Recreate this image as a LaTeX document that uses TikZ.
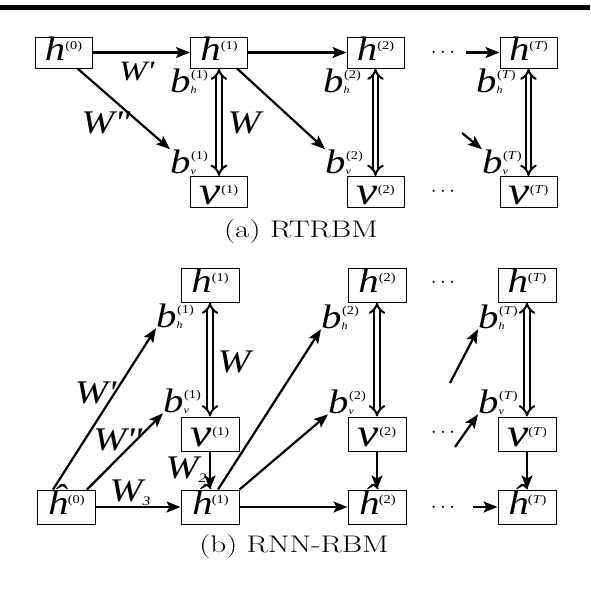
\documentclass[tikz,border=0pt]{standalone}
\usepackage{fontspec}
\newfontfamily\tms[FakeStretch=1.2, UprightFont={Liberation Serif}, ItalicFont={Liberation Serif Italic}]{Liberation Serif}
\usetikzlibrary{arrows.meta, positioning}

\newcommand{\hlab}[2]{{\fontsize{34}{34}\selectfont\itshape #1}\raisebox{11pt}{\fontsize{12}{12}\selectfont #2}}
\newcommand{\vlab}[1]{{\fontsize{40}{40}\selectfont\itshape v}\raisebox{11pt}{\fontsize{12}{12}\selectfont #1}}
\newcommand{\blab}[2]{{\fontsize{34}{34}\selectfont\itshape b}\rlap{\raisebox{-1pt}{\fontsize{10}{10}\selectfont\itshape #1}}\kern0.5pt\raisebox{14pt}{\fontsize{12}{12}\selectfont #2}}
\newcommand{\wlab}[1]{{\fontsize{33}{33}\selectfont\itshape W#1}}

\begin{document}
\begin{tikzpicture}[x=1pt, y=-1pt,
  every node/.style={font=\tms, inner sep=0pt},
  box/.style={draw, line width=1pt, minimum width=57pt, minimum height=31pt,
              text height=23pt, text depth=8pt},
  boxb/.style={box, minimum width=58pt, minimum height=34pt},
  vbox/.style={text height=28pt, text depth=3pt},
  arr/.style={-{Stealth[length=14pt, width=11pt, inset=3pt]}, line width=2.2pt},
  dbl/.style={{Implies}-{Implies}, double, double distance=3.5pt, line width=2pt},
  lbl/.style={anchor=base west},
  captxt/.style={font=\rmfamily\fontsize{24}{24}\selectfont},
  dts/.style={font=\fontsize{22}{22}\selectfont},
]
  \useasboundingbox (0,0) rectangle (590,600);
  \draw[line width=5pt] (0,7.5) -- (590,7.5);

  % (a) RTRBM
  \node[box] (h0) at (63.5,52.5) {\hlab{h}{(0)}};
  \node[box] (ha1) at (219,52.5) {\hlab{h}{(1)}};
  \node[box] (ha2) at (375.5,52.5) {\hlab{h}{(2)}};
  \node[box] (haT) at (528.5,52.5) {\hlab{h}{(\textit{T})}};
  \node[box, vbox] (va1) at (219,192) {\vlab{(1)}};
  \node[box, vbox] (va2) at (375.5,192) {\vlab{(2)}};
  \node[box, vbox] (vaT) at (528.5,192) {\vlab{(\textit{T})}};

  \node[dts] (dta1) at (443,53) {$\cdots$};
  \node[dts] (dta2) at (443,192) {$\cdots$};

  \node[lbl] (bha1) at (170,92) {\blab{h}{(1)}};
  \node[lbl] (bva1) at (170,173) {\blab{v}{(1)}};
  \node[lbl] (bha2) at (323,92) {\blab{h}{(2)}};
  \node[lbl] (bva2) at (325,173) {\blab{v}{(2)}};
  \node[lbl] (bhaT) at (476,92) {\blab{h}{(\textit{T})}};
  \node[lbl] (bvaT) at (482,173) {\blab{v}{(\textit{T})}};

  \node (wpa) at (136,72) {\fontsize{28}{28}\selectfont\itshape W\textquotesingle};
  \node (wppa) at (105,123) {\wlab{\textquotesingle\textquotesingle}};
  \node (wa) at (244,123) {\wlab{}};

  \draw[arr] (h0.east) -- (ha1.west);
  \draw[arr] (ha1.east) -- (ha2.west);
  \coordinate (sa) at (466,52.5);
  \draw[arr] (sa) -- (haT.west);
  \draw[arr] ([xshift=14pt]h0.south) -- (bva1.north west);
  \draw[arr] ([xshift=18pt]ha1.south) -- (bva2.north west);
  \coordinate (sva) at (462,133);
  \draw[arr] (sva) -- (bvaT.north west);
  \foreach \k in {1,2,T}
    \draw[dbl] (ha\k.south) -- (va\k.north);

  \node[captxt] (capa) at (301,232) {\scalebox{1.3}[1]{(a) RTRBM}};

  % (b) RNN-RBM
  \node[boxb] (hb1) at (210,285) {\hlab{h}{(1)}};
  \node[boxb] (hb2) at (377,285) {\hlab{h}{(2)}};
  \node[boxb] (hbT) at (527,285) {\hlab{h}{(\textit{T})}};
  \node[boxb, vbox] (vb1) at (210,434) {\vlab{(1)}};
  \node[boxb, vbox] (vb2) at (377,434) {\vlab{(2)}};
  \node[boxb, vbox] (vbT) at (527,434) {\vlab{(\textit{T})}};
  \node[boxb] (hh0) at (66,507) {\hlab{\^{h}}{(0)}};
  \node[boxb] (hh1) at (210,507) {\hlab{\^{h}}{(1)}};
  \node[boxb] (hh2) at (377,507) {\hlab{\^{h}}{(2)}};
  \node[boxb] (hhT) at (527,507) {\hlab{\^{h}}{(\textit{T})}};

  \node[dts] (dtb1) at (443,283) {$\cdots$};
  \node[dts] (dtb2) at (443,433) {$\cdots$};
  \node[dts] (dtb3) at (443,508) {$\cdots$};

  \node[lbl] (bhb1) at (156,327) {\blab{h}{(1)}};
  \node[lbl] (bvb1) at (163,412) {\blab{v}{(1)}};
  \node[lbl] (bhb2) at (321,328) {\blab{h}{(2)}};
  \node[lbl] (bvb2) at (328,413) {\blab{v}{(2)}};
  \node[lbl] (bhbT) at (478,328) {\blab{h}{(\textit{T})}};
  \node[lbl] (bvbT) at (478,413) {\blab{v}{(\textit{T})}};

  \node (wpb) at (95,393) {\wlab{\textquotesingle}};
  \node (wppb) at (117,440) {\wlab{\textquotesingle\textquotesingle}};
  \node (wb) at (234,362) {\wlab{}};
  \node (w3) at (130,493) {\wlab{\raisebox{-4pt}{\fontsize{13}{13}\selectfont 3}}};
  \node (w2) at (186,470) {\wlab{\raisebox{-4pt}{\fontsize{13}{13}\selectfont 2}}};

  \foreach \k in {1,2,T} {
    \draw[dbl] (hb\k.south) -- (vb\k.north);
    \draw[arr] (vb\k.south) -- (hh\k.north);
  }
  \draw[arr] ([xshift=-13pt]hh0.north) -- (bhb1.south west);
  \draw[arr] ([xshift=21pt]hh0.north) -- (bvb1.south west);
  \draw[arr] (hh0.east) -- (hh1.west);
  \draw[arr] ([xshift=8pt]hh1.north) -- (bhb2.south west);
  \draw[arr] (hh1.north east) -- (bvb2.south west);
  \draw[arr] (hh1.east) -- (hh2.west);
  \coordinate (sb) at (473,507);
  \draw[arr] (sb) -- (hhT.west);
  \coordinate (shb) at (450,383);
  \draw[arr] (shb) -- (bhbT.south west);
  \coordinate (svb) at (455,447);
  \draw[arr] (svb) -- (bvbT.south west);

  \node[captxt] (capb) at (294,547) {\scalebox{1.3}[1]{(b) RNN-RBM}};
\end{tikzpicture}
\end{document}
